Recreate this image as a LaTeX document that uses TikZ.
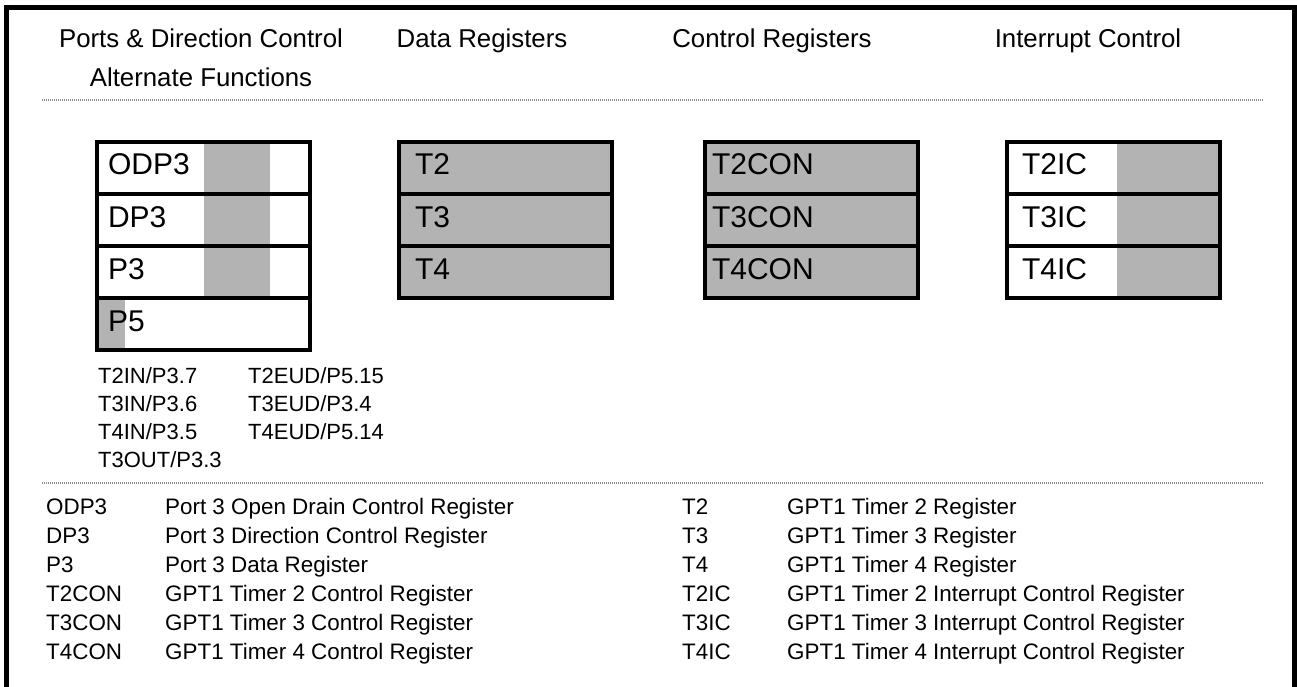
\documentclass[tikz,border=0pt]{standalone}
\usepackage{fontspec}
\setmainfont{Liberation Sans}
\usepackage{tikz}
\usetikzlibrary{positioning}
\definecolor{regfill}{RGB}{179,179,179}
\definecolor{rulegray}{RGB}{140,140,140}
\tikzset{
  regrow/.style={rectangle, draw=black, line width=4pt, outer sep=0pt,
    minimum width=213pt, minimum height=52pt, inner xsep=11pt,
    text width=191pt, align=left, font=\fontsize{30}{34}\selectfont,
    text height=21pt, text depth=7pt, anchor=north west},
  portrow/.style={regrow, path picture={\fill[regfill]
    ([xshift=107pt]path picture bounding box.south west) rectangle
    ([xshift=173pt]path picture bounding box.north west);}},
  p5row/.style={regrow, path picture={\fill[regfill]
    (path picture bounding box.south west) rectangle
    ([xshift=28pt]path picture bounding box.north west);}},
  datarow/.style={regrow, fill=regfill, inner xsep=16pt, text width=181pt},
  ctrlrow/.style={regrow, fill=regfill, inner xsep=7pt, text width=199pt},
  introw/.style={regrow, inner xsep=15pt, text width=183pt,
    path picture={\fill[regfill]
    ([xshift=110pt]path picture bounding box.south west) rectangle
    (path picture bounding box.north east);}},
  hdr/.style={font=\fontsize{25.8}{30}\selectfont, anchor=base, inner sep=0pt},
  alttext/.style={font=\fontsize{22}{26}\selectfont, anchor=base west, inner sep=0pt},
  legend/.style={font=\fontsize{22.4}{26}\selectfont, anchor=base west, inner sep=0pt},
  frame/.style={line width=5pt, color=black},
  sepline/.style={line width=2.5pt, color=rulegray, dash pattern=on 1pt off 1pt}
}
\begin{document}
\begin{tikzpicture}[x=1pt, y=-1pt]
  \useasboundingbox (0,0) rectangle (1297,687);

  % ── Outer frame (open at the bottom) ───────────────────────────────────────
  \draw[frame] (6.5,687) -- (6.5,7.5) -- (1294.5,7.5) -- (1294.5,687);

  % ── Column headings ────────────────────────────────────────────────────────
  \node[hdr] (hports) at (201,48) {Ports \& Direction Control};
  \node[hdr] (halt)   at (201,87) {Alternate Functions};
  \node[hdr] (hdata)  at (482,48) {Data Registers};
  \node[hdr] (hctrl)  at (772,48) {Control Registers};
  \node[hdr] (hint)   at (1088,48) {Interrupt Control};

  \draw[sepline] (42,100) -- (1263,100);

  % ── Ports & direction control ──────────────────────────────────────────────
  \node[portrow] (odp3) at (97,142) {ODP3};
  \node[portrow, below=0pt of odp3] (dp3) {DP3};
  \node[portrow, below=0pt of dp3] (p3) {P3};
  \node[p5row, below=0pt of p3] (p5) {P5};

  % ── Data registers ─────────────────────────────────────────────────────────
  \node[datarow] (t2) at (399,142) {T2};
  \node[datarow, below=0pt of t2] (t3) {T3};
  \node[datarow, below=0pt of t3] (t4) {T4};

  % ── Control registers ──────────────────────────────────────────────────────
  \node[ctrlrow] (t2con) at (705,142) {T2CON};
  \node[ctrlrow, below=0pt of t2con] (t3con) {T3CON};
  \node[ctrlrow, below=0pt of t3con] (t4con) {T4CON};

  % ── Interrupt control ──────────────────────────────────────────────────────
  \node[introw] (t2ic) at (1007,142) {T2IC};
  \node[introw, below=0pt of t2ic] (t3ic) {T3IC};
  \node[introw, below=0pt of t3ic] (t4ic) {T4IC};

  % ── Alternate functions ────────────────────────────────────────────────────
  \node[alttext] (t2in)  at (98,383) {T2IN/P3.7};
  \node[alttext] (t3in)  at (98,411) {T3IN/P3.6};
  \node[alttext] (t4in)  at (98,439) {T4IN/P3.5};
  \node[alttext] (t3out) at (98,467) {T3OUT/P3.3};
  \node[alttext] (t2eud) at (248,383) {T2EUD/P5.15};
  \node[alttext] (t3eud) at (248,411) {T3EUD/P3.4};
  \node[alttext] (t4eud) at (248,439) {T4EUD/P5.14};

  \draw[sepline] (42,483) -- (1263,483);

  % ── Legend, left column ────────────────────────────────────────────────────
  \node[legend] (lodp3)  at (46,514) {ODP3};
  \node[legend] (ldp3)   at (46,543) {DP3};
  \node[legend] (lp3)    at (46,572) {P3};
  \node[legend] (lt2con) at (46,601) {T2CON};
  \node[legend] (lt3con) at (46,630) {T3CON};
  \node[legend] (lt4con) at (46,659) {T4CON};
  \node[legend] (dodp3)  at (165,514) {Port 3 Open Drain Control Register};
  \node[legend] (ddp3)   at (165,543) {Port 3 Direction Control Register};
  \node[legend] (dp3d)   at (165,572) {Port 3 Data Register};
  \node[legend] (dt2con) at (165,601) {GPT1 Timer 2 Control Register};
  \node[legend] (dt3con) at (165,630) {GPT1 Timer 3 Control Register};
  \node[legend] (dt4con) at (165,659) {GPT1 Timer 4 Control Register};

  % ── Legend, right column ───────────────────────────────────────────────────
  \node[legend] (lt2)   at (682,514) {T2};
  \node[legend] (lt3)   at (682,543) {T3};
  \node[legend] (lt4)   at (682,572) {T4};
  \node[legend] (lt2ic) at (682,601) {T2IC};
  \node[legend] (lt3ic) at (682,630) {T3IC};
  \node[legend] (lt4ic) at (682,659) {T4IC};
  \node[legend] (dt2)   at (787,514) {GPT1 Timer 2 Register};
  \node[legend] (dt3)   at (787,543) {GPT1 Timer 3 Register};
  \node[legend] (dt4)   at (787,572) {GPT1 Timer 4 Register};
  \node[legend] (dt2ic) at (787,601) {GPT1 Timer 2 Interrupt Control Register};
  \node[legend] (dt3ic) at (787,630) {GPT1 Timer 3 Interrupt Control Register};
  \node[legend] (dt4ic) at (787,659) {GPT1 Timer 4 Interrupt Control Register};
\end{tikzpicture}
\end{document}
